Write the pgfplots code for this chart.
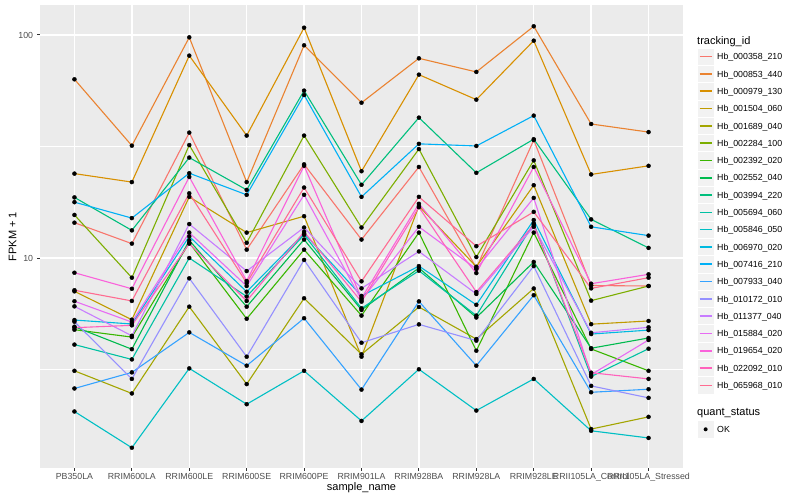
\documentclass[border=0pt]{standalone}
\usepackage{fontspec}
\setmainfont{Liberation Sans}
\usepackage{pgfplots}
\usepackage{pgfplotstable}
\pgfplotsset{compat=1.18}

% ggplot2 hue palette, 20 levels
\definecolor{c1}{HTML}{F8766D}
\definecolor{c2}{HTML}{EA8331}
\definecolor{c3}{HTML}{D89000}
\definecolor{c4}{HTML}{C09B00}
\definecolor{c5}{HTML}{A3A500}
\definecolor{c6}{HTML}{7CAE00}
\definecolor{c7}{HTML}{39B600}
\definecolor{c8}{HTML}{00BB4E}
\definecolor{c9}{HTML}{00BF7D}
\definecolor{c10}{HTML}{00C1A3}
\definecolor{c11}{HTML}{00BFC4}
\definecolor{c12}{HTML}{00BAE0}
\definecolor{c13}{HTML}{00B0F6}
\definecolor{c14}{HTML}{35A2FF}
\definecolor{c15}{HTML}{9590FF}
\definecolor{c16}{HTML}{C77CFF}
\definecolor{c17}{HTML}{E76BF3}
\definecolor{c18}{HTML}{FA62DB}
\definecolor{c19}{HTML}{FF62BC}
\definecolor{c20}{HTML}{FF6C91}
\definecolor{panel}{HTML}{EBEBEB}
\definecolor{keybg}{HTML}{F2F2F2}
\definecolor{ticklab}{HTML}{4D4D4D}
\definecolor{tickmk}{HTML}{333333}

% FPKM + 1, one row per sample, one column per tracking_id
\pgfplotstableread{
x  s1    s2    s3    s4    s5    s6    s7    s8    s9    s10   s11   s12   s13   s14   s15   s16   s17   s18   s19   s20
0  14.4  63.3  23.9  7.09  3.12  15.6  4.77  4.92  18.7  4.09  2.05  5.27  17.8  2.60  5.18  6.07  6.40  8.59  4.87  7.17
1  11.6  31.9  21.9  5.29  2.47  8.16  4.42  3.90  13.3  3.51  1.41  5.06  15.1  3.07  2.87  4.48  5.16  7.28  4.99  6.42
2  36.5  97.6  80.8  18.8  6.05  32.1  11.7  12.0  28.2  10.0  3.20  12.5  24.0  4.64  8.11  14.2  13.0  23.1  11.6  19.5
3  10.9  21.9  35.4  13.0  2.72  11.7  5.34  6.05  20.2  6.72  2.21  7.06  19.2  3.29  3.61  8.74  7.49  7.89  6.42  7.73
4  26.3  89.9  107.8 15.4  6.60  35.4  10.9  12.1  56.3  12.7  3.12  12.9  53.8  5.37  9.80  13.7  19.2  25.9  13.1  20.7
5  12.1  49.7  24.5  3.61  3.70  13.7  5.52  5.85  21.3  5.95  1.86  6.76  18.8  2.57  4.17  7.31  6.48  6.60  6.37  7.86
6  25.6  78.6  66.4  17.1  6.03  30.8  13.0  9.02  42.6  8.77  3.17  9.20  32.5  6.39  5.04  10.7  13.8  17.5  16.9  18.8
7  9.02  68.3  51.3  9.14  4.33  10.1  3.84  5.41  24.1  5.52  2.07  6.17  31.8  3.29  4.26  6.90  8.93  8.56  7.04  11.3
8  33.8  109.4 94.3  21.2  7.30  27.4  13.0  9.60  34.1  14.3  2.87  14.8  43.5  6.81  9.20  13.8  18.6  25.6  14.1  16.1
9  7.53  39.9  23.7  5.05  1.71  6.44  3.91  3.94  14.9  2.94  1.68  4.56  13.8  2.50  2.67  4.62  3.00  7.67  3.06  7.31
10 7.49  36.7  25.9  5.22  1.94  7.49  3.12  4.38  11.1  3.92  1.56  4.75  12.6  2.58  2.36  4.89  4.29  8.45  2.87  8.16
}\fpkm

\begin{document}
\begin{tikzpicture}
\useasboundingbox (0pt,0pt) rectangle (800pt,500pt);
\begin{axis}[
    at={(40pt,32pt)}, anchor=south west,
    scale only axis, width=643pt, height=463pt,
    ymode=log, ymin=1.144, ymax=136.3,
    xmin=-0.6, xmax=10.6,
    xtick={0,...,10},
    xticklabels={PB350LA,RRIM600LA,RRIM600LE,RRIM600SE,RRIM600PE,RRIM901LA,RRIM928BA,RRIM928LA,RRIM928LE,RRII105LA\_Control,RRII105LA\_Stressed},
    ytick={10,100}, yticklabels={10,100},
    minor ytick={3.1623,31.623},
    grid=both,
    major grid style={white, line width=1.4pt},
    minor grid style={white, line width=0.7pt},
    axis background/.style={fill=panel},
    axis line style={draw=none},
    tick align=outside, tick pos=left,
    major tick length=2.75pt, minor tick length=0pt,
    tick style={tickmk, line width=1pt},
    /pgf/number format/assume math mode=true,
    ticklabel style={font=\fontsize{8.8}{10}\selectfont, text=ticklab},
    xticklabel style={inner sep=0pt, anchor=north, yshift=-2.5pt},
    yticklabel style={inner sep=0pt, anchor=east, xshift=-4pt},
]
\pgfplotsinvokeforeach{1,...,20}{
  \addplot[c#1, line width=1.1pt, no markers] table[x=x, y=s#1] {\fpkm};
}
\pgfplotsinvokeforeach{1,...,20}{
  \addplot[only marks, mark=*, mark size=2pt, black] table[x=x, y=s#1] {\fpkm};
}
\end{axis}

% axis titles
\node[anchor=base, inner sep=0pt, font=\fontsize{11}{13}\selectfont] at (361.5pt,9pt) {sample\_name};
\node[rotate=90, inner sep=0pt, font=\fontsize{11}{13}\selectfont] at (12.5pt,263.5pt) {FPKM + 1};

% legend: tracking_id
\node[anchor=base west, inner sep=0pt, font=\fontsize{11}{13}\selectfont] at (697pt,455.5pt) {tracking\_id};
\foreach \nm [count=\k] in {000358\_210,000853\_440,000979\_130,001504\_060,001689\_040,002284\_100,002392\_020,002552\_040,003994\_220,005694\_060,005846\_050,006970\_020,007416\_210,007933\_040,010172\_010,011377\_040,015884\_020,019654\_020,022092\_010,065968\_010}{
  \pgfmathsetmacro\yy{500-56.7-17.3*(\k-1)}
  \pgfmathsetmacro\ylo{\yy-8.65}
  \pgfmathsetmacro\yhi{\yy+8.65}
  \pgfmathsetmacro\ybase{\yy-3.2}
  \filldraw[fill=keybg, draw=white, line width=0.8pt] (697pt,\ylo pt) rectangle (714.3pt,\yhi pt);
  \draw[c\k, line width=1.6pt] (699.5pt,\yy pt) -- (711.8pt,\yy pt);
  \node[anchor=base west, inner sep=0pt, font=\fontsize{8.8}{10}\selectfont] at (717pt,\ybase pt) {Hb\_\nm};
}

% legend: quant_status
\node[anchor=base west, inner sep=0pt, font=\fontsize{11}{13}\selectfont] at (697pt,84pt) {quant\_status};
\filldraw[fill=keybg, draw=white, line width=0.8pt] (697pt,62.05pt) rectangle (714.3pt,79.35pt);
\fill[black] (705.65pt,70.7pt) circle (2pt);
\node[anchor=base west, inner sep=0pt, font=\fontsize{8.8}{10}\selectfont] at (717pt,67.5pt) {OK};
\end{tikzpicture}
\end{document}
